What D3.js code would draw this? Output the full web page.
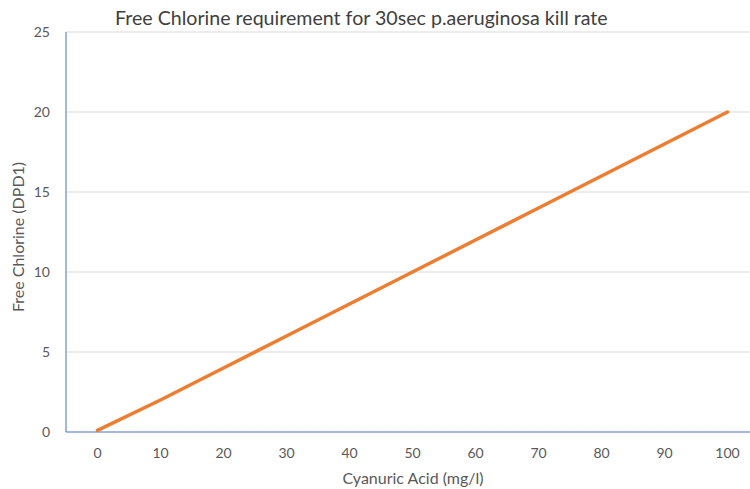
<!DOCTYPE html>
<html>
<head>
<meta charset="utf-8">
<script src="https://cdn.jsdelivr.net/npm/d3@7"></script>
<style>
  body { margin: 0; background: #fff; }
  text { font-family: Lato, "Open Sans", sans-serif; }
</style>
</head>
<body>
<div class="chart"></div>
<script>
/* Free chlorine vs cyanuric acid line chart. */

var acid = [0, 10, 20, 30, 40, 50, 60, 70, 80, 90, 100];
var chlorine = [0.1, 2, 4, 6, 8, 10, 12, 14, 16, 18, 20];
var yTicks = [0, 5, 10, 15, 20, 25];

var width = 750, height = 489;

var svg = d3.select(".chart")
    .append("svg")
    .attr("width", width)
    .attr("height", height);

// category-like x scale: half step padding each side
var x = d3.scaleLinear().domain([-5, 105]).range([66, 759]);
var y = d3.scaleLinear().domain([0, 25]).range([432, 32]);

// gridlines
svg.append("g")
  .selectAll("line")
  .data(yTicks.filter(function (d) { return d > 0; }))
  .enter()
  .append("line")
  .attr("x1", x(-5))
  .attr("x2", width)
  .attr("y1", function (d) { return y(d); })
  .attr("y2", function (d) { return y(d); })
  .style("stroke", "#d9d9d9")
  .style("stroke-width", 1);

// y tick labels
svg.append("g")
  .selectAll("text")
  .data(yTicks)
  .enter()
  .append("text")
  .attr("x", 50)
  .attr("y", function (d) { return y(d) + 5; })
  .attr("text-anchor", "end")
  .style("font-size", "14px")
  .style("fill", "#595959")
  .text(function (d) { return d; });

// x tick labels
svg.append("g")
  .selectAll("text")
  .data(acid)
  .enter()
  .append("text")
  .attr("x", function (d) { return x(d); })
  .attr("y", 458)
  .attr("text-anchor", "middle")
  .style("font-size", "14px")
  .style("fill", "#595959")
  .text(function (d) { return d; });

// axes lines
svg.append("line")
  .attr("x1", x(-5)).attr("x2", x(-5))
  .attr("y1", y(25)).attr("y2", y(0))
  .style("stroke", "#4472c4").style("stroke-width", 1);
svg.append("line")
  .attr("x1", x(-5)).attr("x2", width)
  .attr("y1", y(0)).attr("y2", y(0))
  .style("stroke", "#4472c4").style("stroke-width", 1);

// the series
var line = d3.line()
  .x(function (d, i) { return x(acid[i]); })
  .y(function (d) { return y(d); });

svg.append("path")
  .datum(chlorine)
  .attr("d", line)
  .style("fill", "none")
  .style("stroke", "#ed7d31")
  .style("stroke-width", 3.5)
  .style("stroke-linecap", "round")
  .style("stroke-linejoin", "round");

// title and axis titles
svg.append("text")
  .attr("x", 115)
  .attr("y", 25)
  .style("font-size", "19.6px")
  .style("fill", "#404040")
  .text("Free Chlorine requirement for 30sec p.aeruginosa kill rate");

svg.append("text")
  .attr("x", 413)
  .attr("y", 484)
  .attr("text-anchor", "middle")
  .style("font-size", "16px")
  .style("fill", "#595959")
  .text("Cyanuric Acid (mg/l)");

svg.append("text")
  .attr("transform", "translate(24,237) rotate(-90)")
  .attr("text-anchor", "middle")
  .style("font-size", "16px")
  .style("fill", "#595959")
  .text("Free Chlorine (DPD1)");
</script>
</body>
</html>
